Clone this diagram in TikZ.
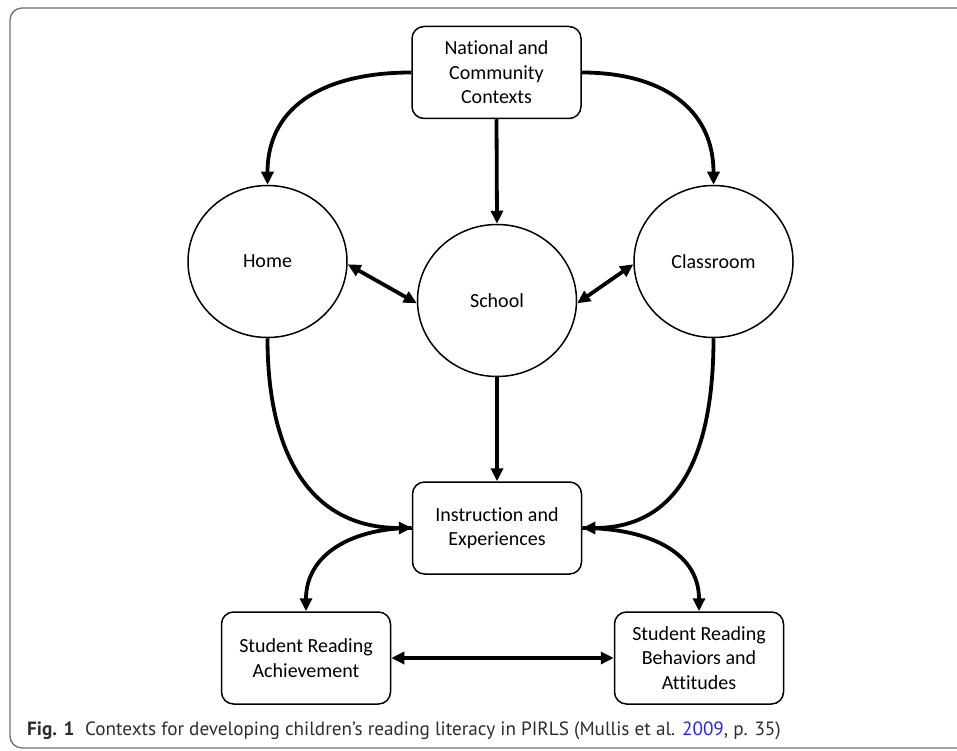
\documentclass[tikz,border=0pt]{standalone}
\usepackage{fontspec}
\setmainfont{Carlito}[Ligatures=NoCommon]
\newfontfamily\capfont{PT Sans}
\usetikzlibrary{arrows.meta,shapes.geometric}
\definecolor{framegray}{RGB}{110,110,110}
\definecolor{capgray}{RGB}{45,45,45}
\definecolor{linkblue}{RGB}{40,40,240}
\begin{document}
\begin{tikzpicture}[x=1pt,y=-1pt,
  boxnode/.style={draw,rounded corners=12pt,line width=1.5pt,minimum width=169pt,minimum height=92pt,align=center,inner sep=0pt,font=\fontsize{20}{24.5}\selectfont},
  circnode/.style={draw,ellipse,line width=1.5pt,minimum width=159pt,minimum height=152pt,inner sep=0pt,font=\fontsize{20}{24.5}\selectfont},
  link/.style={line width=3.8pt,-{Triangle[length=13pt,width=12pt]}},
  dlink/.style={line width=3.8pt,{Triangle[length=13pt,width=12pt]}-{Triangle[length=13pt,width=12pt]}}]
\useasboundingbox (0,0) rectangle (957,751);
\begin{scope}
\clip (0,0) rectangle (957,751);
\draw[framegray,line width=1.3pt,rounded corners=12pt] (10,8) rectangle (990,748);
\end{scope}
\node[boxnode] (nat) at (496.5,72.5) {National and\\Community\\Contexts};
\node[circnode] (home) at (267.5,261.5) {Home};
\node[circnode] (school) at (497,300.5) {School};
\node[circnode] (class) at (713.5,261.5) {Classroom};
\node[boxnode] (instr) at (497,528) {Instruction and\\Experiences};
\node[boxnode] (ach) at (306,658) {Student Reading\\Achievement};
\node[boxnode] (beh) at (699,658) {Student Reading\\Behaviors and\\Attitudes};
\draw[link] (nat.west) to[out=180,in=90,looseness=1.15] (home.north);
\draw[link] (nat.east) to[out=0,in=90,looseness=1.15] (class.north);
\draw[link] (nat.south) -- (school.north);
\draw[dlink] (home.-2) -- (school.182);
\draw[dlink] (school.-2) -- (class.182);
\draw[link] (home.south) to[out=-90,in=180,looseness=1.15] (instr.west);
\draw[link] (class.south) to[out=-90,in=0,looseness=1.15] (instr.east);
\draw[link] (school.south) -- (instr.north);
\draw[link] (instr.west) to[out=180,in=90,looseness=1.1] (ach.north);
\draw[link] (instr.east) to[out=0,in=90,looseness=1.1] (beh.north);
\draw[dlink] (ach.east) -- (beh.west);
\node[anchor=base west,inner sep=0pt,text=capgray,font=\capfont\fontsize{19.2}{22}\selectfont] (cap) at (27,735)
  {\textbf{Fig. 1}\hspace{0.55em}Contexts for developing children’s reading literacy in PIRLS (Mullis et al. \textcolor{linkblue}{2009}, p. 35)};
\end{tikzpicture}
\end{document}
